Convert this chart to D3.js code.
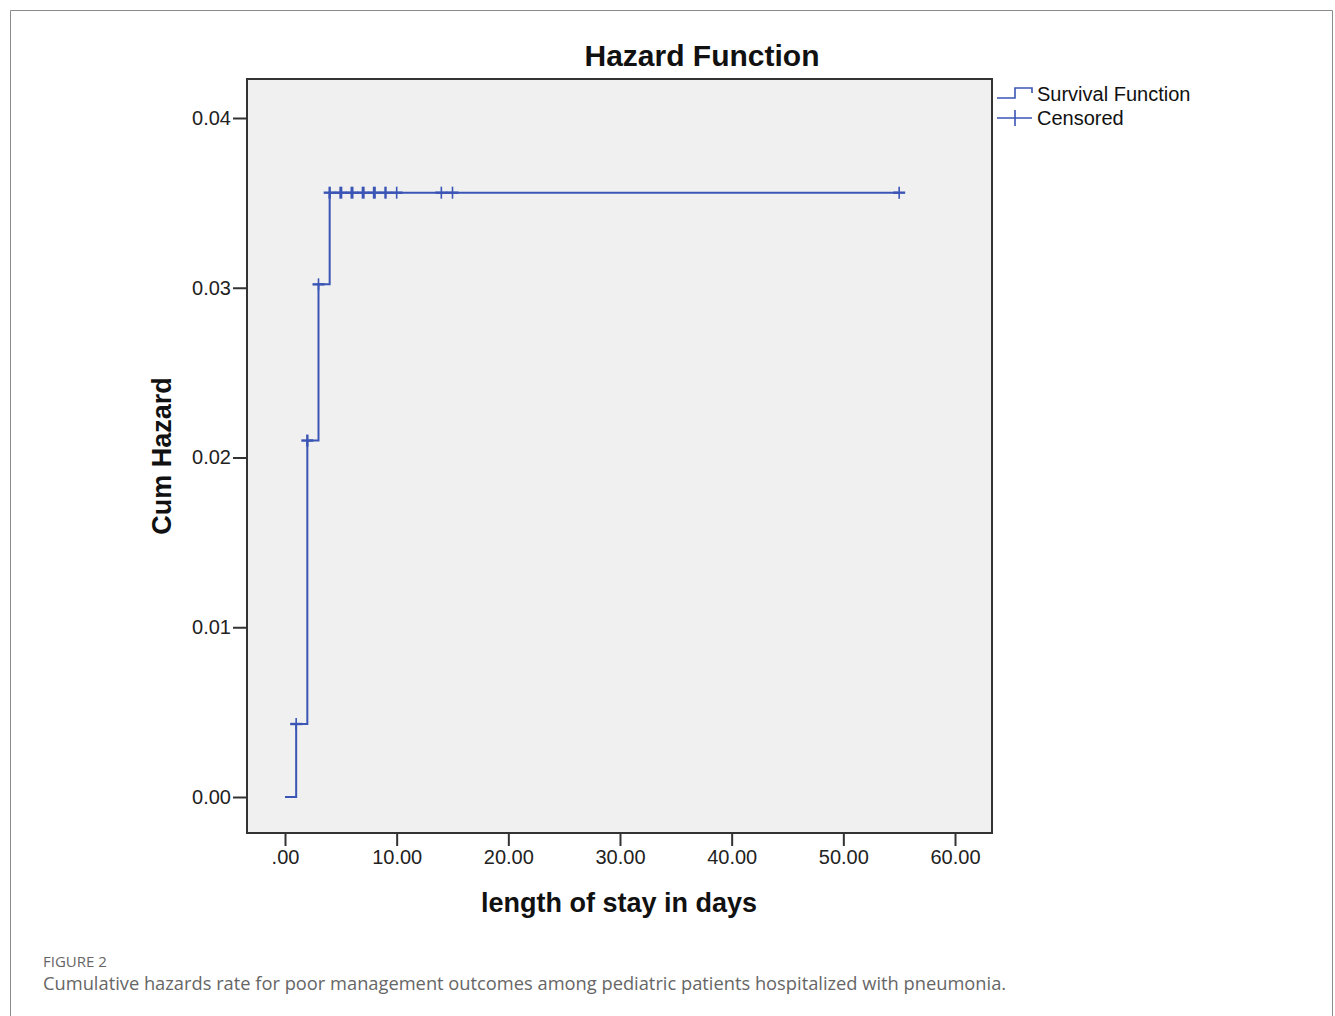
<!DOCTYPE html>
<html><head><meta charset="utf-8">
<script src="https://cdn.jsdelivr.net/npm/d3@7"></script>
<style>
html,body{margin:0;padding:0;background:#fff;}
svg{display:block;}
</style></head>
<body>
<script>
// ---- data ----
const stepTimes   = [0, 1, 2, 3, 4, 55];
const stepHazards = [0, 0.0043, 0.0210, 0.0302, 0.0356, 0.0356];
const censorTimes   = [1, 2, 3, 4, 5, 6, 7, 8, 9, 10, 14, 15, 55];
const censorHazards = [0.0043, 0.0210, 0.0302, 0.0356, 0.0356, 0.0356, 0.0356, 0.0356, 0.0356, 0.0356, 0.0356, 0.0356, 0.0356];
const censorCounts  = [1, 2, 1, 2, 3, 3, 3, 3, 2, 1, 1, 1, 1];
const xTicks = [0, 10, 20, 30, 40, 50, 60];
const xTickLabels = [".00", "10.00", "20.00", "30.00", "40.00", "50.00", "60.00"];
const yTicks = [0, 0.01, 0.02, 0.03, 0.04];
const yTickLabels = ["0.00", "0.01", "0.02", "0.03", "0.04"];
const legendLabels = ["Survival Function", "Censored"];
const title = "Hazard Function";
const xTitle = "length of stay in days";
const yTitle = "Cum Hazard";
const figLabel = "FIGURE 2";
const caption = "Cumulative hazards rate for poor management outcomes among pediatric patients hospitalized with pneumonia.";

const W = 1335, H = 1016;
const lineColor = "#3a55b5";
const font = "'Liberation Sans', Arial, sans-serif";

const svg = d3.select("body").append("svg").attr("width", W).attr("height", H);

// outer frame
svg.append("path").attr("d", `M10.5,${H} V10.5 H1332.5 V${H}`)
  .attr("fill", "none").attr("stroke", "#8a8a8a").attr("stroke-width", 1);

// plot box
const box = {l: 247, r: 992, t: 79, b: 833};
svg.append("rect").attr("x", box.l).attr("y", box.t)
  .attr("width", box.r - box.l).attr("height", box.b - box.t)
  .attr("fill", "#f0f0f0").attr("stroke", "#333").attr("stroke-width", 2);

const x = d3.scaleLinear().domain([0, 60]).range([285, 955]);
const y = d3.scaleLinear().domain([0, 0.04]).range([797, 118]);

// axes
const yAxis = d3.axisLeft(y).tickValues(yTicks).tickFormat((d, i) => yTickLabels[i]).tickSize(13).tickPadding(2);
const gy = svg.append("g").attr("transform", `translate(${box.l - 1},0)`).call(yAxis);
gy.select(".domain").remove();
gy.selectAll(".tick line").attr("stroke", "#333").attr("stroke-width", 2);
gy.selectAll(".tick text").attr("font-family", font).attr("font-size", 20).attr("fill", "#222");

const xAxis = d3.axisBottom(x).tickValues(xTicks).tickFormat((d, i) => xTickLabels[i]).tickSize(12).tickPadding(4);
const gx = svg.append("g").attr("transform", `translate(0,${box.b + 1})`).call(xAxis);
gx.select(".domain").remove();
gx.selectAll(".tick line").attr("stroke", "#333").attr("stroke-width", 2);
gx.selectAll(".tick text").attr("font-family", font).attr("font-size", 20).attr("fill", "#222");

// step line
const stepData = stepTimes.map((t, i) => [t, stepHazards[i]]);
const line = d3.line().x(d => x(d[0])).y(d => y(d[1])).curve(d3.curveStepAfter);
svg.append("path").datum(stepData).attr("d", line)
  .attr("fill", "none").attr("stroke", lineColor).attr("stroke-width", 2);

// censored markers
const cens = censorTimes.map((t, i) => ({t, h: censorHazards[i], n: censorCounts[i]}));
const cg = svg.append("g").attr("stroke", lineColor);
cens.forEach(d => {
  const cx = x(d.t), cy = y(d.h);
  const sw = d.n >= 3 ? 3 : (d.n === 2 ? 2.4 : 1.6);
  cg.append("line").attr("x1", cx - 6).attr("x2", cx + 6).attr("y1", cy).attr("y2", cy).attr("stroke-width", 2.4);
  cg.append("line").attr("x1", cx).attr("x2", cx).attr("y1", cy - 6).attr("y2", cy + 6).attr("stroke-width", sw);
});

// titles
svg.append("text").attr("x", 702).attr("y", 66).attr("text-anchor", "middle")
  .attr("font-family", font).attr("font-weight", "bold").attr("font-size", 30).attr("fill", "#111").text(title);
svg.append("text").attr("x", 619).attr("y", 912).attr("text-anchor", "middle")
  .attr("font-family", font).attr("font-weight", "bold").attr("font-size", 27).attr("fill", "#111").text(xTitle);
svg.append("text").attr("transform", "translate(171,456) rotate(-90)").attr("text-anchor", "middle")
  .attr("font-family", font).attr("font-weight", "bold").attr("font-size", 27).attr("fill", "#111").text(yTitle);

// legend
const lg = svg.append("g");
lg.append("path").attr("d", "M997,98 H1015 V88 H1032 V93").attr("fill", "none").attr("stroke", lineColor).attr("stroke-width", 1.6);
lg.append("line").attr("x1", 997).attr("x2", 1032).attr("y1", 118).attr("y2", 118).attr("stroke", lineColor).attr("stroke-width", 1.6);
lg.append("line").attr("x1", 1015).attr("x2", 1015).attr("y1", 110).attr("y2", 126).attr("stroke", lineColor).attr("stroke-width", 1.6);
legendLabels.forEach((s, i) => {
  lg.append("text").attr("x", 1037).attr("y", 101 + i * 24).attr("font-family", font).attr("font-size", 20).attr("fill", "#111").text(s);
});

// caption
svg.append("text").attr("x", 43).attr("y", 967).attr("font-family", "'Open Sans', 'Noto Sans', sans-serif")
  .attr("font-size", 15).attr("fill", "#666").text(figLabel);
svg.append("text").attr("x", 43).attr("y", 990).attr("font-family", "'Open Sans', 'Noto Sans', sans-serif")
  .attr("font-size", 18.3).attr("fill", "#666").text(caption);
</script>
</body></html>
